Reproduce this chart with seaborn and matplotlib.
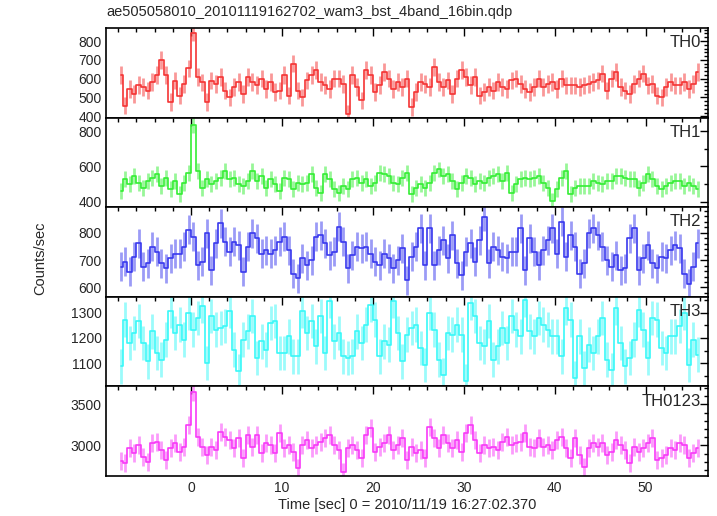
import numpy as np
import pandas as pd
import matplotlib
matplotlib.use("Agg")
import matplotlib.pyplot as plt
from matplotlib.ticker import MultipleLocator
import seaborn as sns

sns.set_theme(style="white")
plt.rcParams['font.family'] = ['Liberation Sans', 'DejaVu Sans']

title = "ae505058010_20101119162702_wam3_bst_4band_16bin.qdp"
xlabel = "Time [sec] 0 = 2010/11/19 16:27:02.370"
bands = ["TH0", "TH1", "TH2", "TH3", "TH0123"]

# bin centres (0.5 s bins)
t_start = -7.75
t_bin = 0.5

th0 = [618, 457, 546, 520, 565, 555, 537, 582, 618, 700, 618, 475, 590, 510, 573, 654,
       845, 609, 580, 475, 590, 573, 610, 537, 500, 555, 582, 520, 610, 582, 565, 600,
       546, 582, 528, 537, 618, 510, 680, 537, 500, 591, 618, 645, 582, 568, 546, 600,
       600, 573, 412, 618, 555, 484, 645, 618, 528, 565, 636, 600, 546, 582, 555, 600,
       448, 528, 582, 573, 555, 663, 582, 555, 591, 520, 600, 645, 609, 565, 609, 510,
       528, 555, 537, 582, 555, 546, 591, 600, 573, 546, 528, 555, 600, 555, 573, 582,
       546, 600, 564, 564, 564, 555, 564, 573, 582, 591, 627, 537, 600, 636, 555, 537,
       520, 573, 600, 627, 564, 573, 510, 500, 555, 582, 564, 564, 582, 546, 573, 636]

th1 = [460, 526, 498, 545, 507, 479, 516, 535, 554, 488, 535, 469, 516, 441, 507, 563,
       836, 573, 479, 526, 498, 516, 535, 573, 526, 535, 498, 488, 516, 573, 516, 545,
       479, 526, 498, 460, 535, 526, 469, 507, 498, 507, 554, 479, 451, 554, 526, 469,
       451, 488, 469, 526, 535, 507, 526, 488, 507, 563, 554, 545, 507, 498, 535, 563,
       441, 479, 498, 479, 507, 563, 582, 545, 554, 516, 469, 507, 545, 535, 498, 516,
       507, 535, 545, 554, 516, 563, 451, 498, 526, 535, 526, 535, 545, 507, 479, 404,
       469, 535, 573, 441, 479, 488, 488, 488, 516, 507, 498, 516, 516, 545, 545, 535,
       526, 526, 479, 507, 554, 526, 488, 469, 488, 507, 516, 516, 488, 507, 488, 469]

th2 = [676, 694, 657, 712, 761, 676, 688, 749, 730, 688, 670, 706, 724, 724, 749, 810,
       785, 682, 694, 798, 663, 761, 834, 767, 730, 767, 755, 657, 749, 798, 779, 724,
       736, 724, 736, 767, 785, 736, 651, 633, 706, 682, 700, 785, 791, 761, 718, 730,
       822, 767, 670, 718, 749, 743, 749, 724, 694, 682, 724, 706, 670, 700, 743, 627,
       712, 749, 816, 682, 816, 682, 736, 773, 706, 791, 688, 645, 730, 761, 694, 773,
       859, 688, 749, 736, 712, 706, 730, 730, 816, 663, 779, 730, 682, 736, 773, 816,
       724, 840, 712, 791, 749, 651, 688, 798, 816, 791, 749, 700, 676, 718, 663, 670,
       779, 816, 663, 706, 755, 688, 670, 712, 706, 736, 755, 743, 651, 614, 676, 761]

th3 = [1087, 1273, 1180, 1220, 1267, 1180, 1107, 1227, 1140, 1113, 1193, 1307, 1220, 1253, 1193, 1300,
       1233, 1280, 1327, 1100, 1287, 1233, 1240, 1247, 1307, 1153, 1067, 1193, 1227, 1287, 1120, 1187,
       1153, 1260, 1267, 1140, 1140, 1207, 1127, 1127, 1307, 1220, 1267, 1167, 1287, 1140, 1347, 1187,
       1220, 1127, 1120, 1127, 1227, 1180, 1253, 1333, 1273, 1127, 1187, 1173, 1347, 1220, 1107, 1213,
       1240, 1253, 1160, 1093, 1300, 1233, 1113, 1053, 1220, 1213, 1253, 1213, 1027, 1340, 1287, 1180,
       1167, 1267, 1113, 1167, 1240, 1180, 1287, 1233, 1207, 1353, 1227, 1207, 1280, 1253, 1233, 1207,
       1207, 1127, 1320, 1273, 1040, 1207, 1080, 1173, 1140, 1207, 1280, 1113, 1073, 1320, 1180, 1087,
       1120, 1193, 1313, 1233, 1120, 1280, 1273, 1160, 1140, 1207, 1207, 1247, 1300, 1093, 1193, 1133]

th0123 = [2813, 2780, 2963, 2902, 3004, 2862, 2801, 3024, 3045, 2943, 2821, 2963, 3024, 2923, 2984, 3248,
          3654, 3106, 2984, 2882, 2984, 2943, 3167, 3106, 3065, 2963, 3085, 2841, 3126, 2984, 3126, 2902,
          3024, 3004, 2902, 3146, 2963, 3004, 2923, 2720, 3004, 3065, 2963, 3004, 3045, 3085, 3126, 3004,
          2943, 2679, 2963, 3004, 2943, 2841, 3126, 3207, 2923, 2984, 3024, 3126, 2943, 3004, 3085, 2821,
          2984, 2902, 2943, 2841, 3228, 3085, 2963, 3126, 3024, 2963, 3065, 2923, 3146, 3248, 3065, 2902,
          3004, 2963, 2984, 2943, 3045, 3106, 3004, 3024, 3045, 3146, 2984, 2963, 3085, 2984, 3004, 2943,
          3065, 3106, 2963, 2841, 3085, 2882, 2740, 2963, 3024, 2984, 3024, 2882, 2923, 3065, 3004, 2943,
          2780, 2984, 2923, 2963, 3024, 3085, 2821, 2841, 2882, 2963, 2943, 3024, 3004, 2841, 2902, 2963]

rates = [th0, th1, th2, th3, th0123]
errors = [47, 45, 53, 69, 110]
colors = ["#f53333", "#33ee33", "#3838ee", "#38f8f8", "#f838f8"]
ylims = [(393, 869), (368, 876), (566, 893), (1007, 1364), (2626, 3720)]
major = [100, 200, 100, 100, 500]
minor = [20, 100, 20, 50, 100]

time = t_start + t_bin * np.arange(len(th0))
df = pd.DataFrame({"time": np.tile(time, len(bands)),
                   "rate": np.concatenate(rates),
                   "band": np.repeat(bands, len(th0))})

fig, axes = plt.subplots(5, 1, figsize=(7.17, 5.16), dpi=100, sharex=True)
fig.subplots_adjust(left=0.1485, right=0.988, top=0.9457, bottom=0.0775, hspace=0)

for ax, band, err, col, yl, mj, mn in zip(axes, bands, errors, colors, ylims, major, minor):
    sub = df[df["band"] == band]
    ax.errorbar(sub["time"], sub["rate"], yerr=err, fmt="none", ecolor=col,
                elinewidth=2.0, alpha=0.5)
    sns.lineplot(data=sub, x="time", y="rate", ax=ax, color=col, linewidth=1.2,
                 drawstyle="steps-mid", estimator=None)
    ax.set_xlim(-9.3, 56.9)
    ax.set_ylim(*yl)
    ax.yaxis.set_major_locator(MultipleLocator(mj))
    ax.yaxis.set_minor_locator(MultipleLocator(mn))
    ax.xaxis.set_major_locator(MultipleLocator(10))
    ax.xaxis.set_minor_locator(MultipleLocator(2))
    ax.tick_params(which="both", direction="in", top=True, right=True, labelsize=10,
                   color="black", width=1.0)
    ax.tick_params(which="major", length=6)
    ax.tick_params(which="minor", length=3)
    for s in ax.spines.values():
        s.set_color("black")
        s.set_linewidth(1.2)
    ax.set_ylabel("")
    ax.set_xlabel("")
    ax.text(0.988, 0.92, band, transform=ax.transAxes, ha="right", va="top", fontsize=12)

axes[-1].set_xlabel(xlabel, fontsize=10.5, labelpad=2)
fig.text(0.056, 0.5, "Counts/sec", rotation=90, ha="center", va="center", fontsize=10.5)
fig.text(0.1485, 0.977, title, ha="left", va="center", fontsize=10.5)

fig.savefig("out.png", dpi=100)
